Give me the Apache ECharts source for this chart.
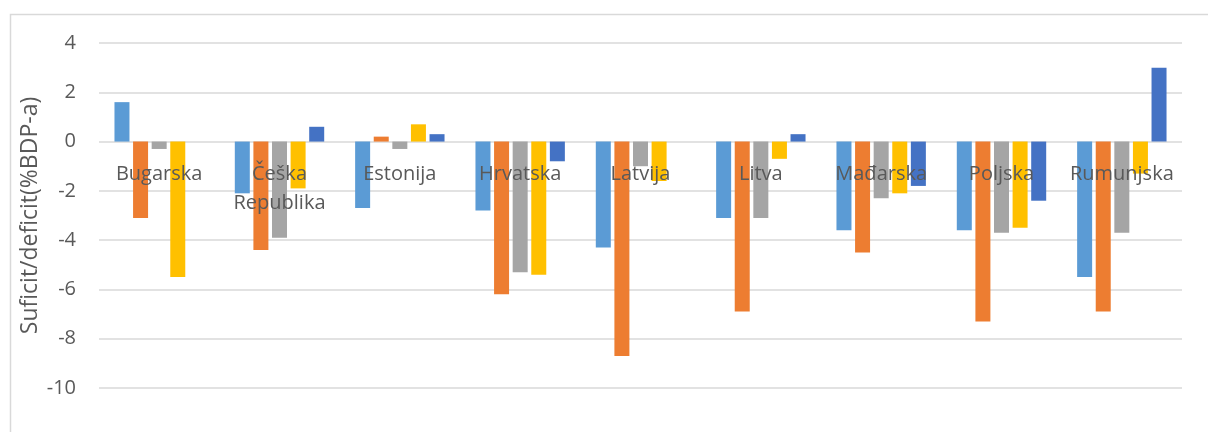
<!DOCTYPE html>
<html><head><meta charset="utf-8">
<script src="https://cdn.jsdelivr.net/npm/echarts@6/dist/echarts.min.js"></script>
<style>html,body{margin:0;padding:0;background:#fff}#c{width:1208px;height:432px}</style>
</head><body><div id="c"></div>
<script>
const categories = ['Bugarska', 'Češka\nRepublika', 'Estonija', 'Hrvatska', 'Latvija', 'Litva', 'Mađarska', 'Poljska', 'Rumunjska'];
const series1 = [1.6, -2.1, -2.7, -2.8, -4.3, -3.1, -3.6, -3.6, -5.5];
const series2 = [-3.1, -4.4, 0.2, -6.2, -8.7, -6.9, -4.5, -7.3, -6.9];
const series3 = [-0.3, -3.9, -0.3, -5.3, -1.0, -3.1, -2.3, -3.7, -3.7];
const series4 = [-5.5, -1.9, 0.7, -5.4, -1.6, -0.7, -2.1, -3.5, -1.3];
const series5 = [0, 0.6, 0.3, -0.8, 0, 0.3, -1.8, -2.4, 3.0];
const seriesNames = ['Serija 1', 'Serija 2', 'Serija 3', 'Serija 4', 'Serija 5'];
const colors = ['#5B9BD5', '#ED7D31', '#A5A5A5', '#FFC000', '#4472C4'];
const yTitle = 'Suficit/deficit(%BDP-a)';

const font = 'Open Sans';
const chart = echarts.init(document.getElementById('c'), null, {renderer: 'canvas'});
const allData = [series1, series2, series3, series4, series5];
const yMin = -10, yMax = 4;
chart.setOption({
  animation: false,
  backgroundColor: '#ffffff',
  graphic: [{
    type: 'rect', left: 8, top: 12, z: -1,
    shape: {width: 1220, height: 440},
    style: {fill: 'none', stroke: '#D9D9D9', lineWidth: 1.5}
  }],
  grid: {left: 99, right: 26, top: 43, bottom: 44, containLabel: false, outerBoundsMode: 'none'},
  xAxis: {
    type: 'category',
    data: categories,
    axisLine: {show: false, onZero: false},
    axisTick: {show: false},
    axisLabel: {
      color: '#595959', fontFamily: font, fontSize: 20, lineHeight: 29,
      margin: 18, interval: 0
    },
    z: 10
  },
  yAxis: {
    type: 'value',
    min: yMin, max: yMax, interval: 2,
    name: yTitle,
    nameLocation: 'middle',
    nameGap: 57,
    nameMoveOverlap: false,
    nameTextStyle: {color: '#595959', fontFamily: font, fontSize: 23},
    axisLine: {show: false},
    axisTick: {show: false},
    axisLabel: {color: '#595959', fontFamily: font, fontSize: 20, margin: 23},
    splitLine: {lineStyle: {color: '#D9D9D9', width: 1.5}}
  },
  series: allData.map((d, i) => ({
    name: seriesNames[i],
    type: 'bar',
    data: d,
    barWidth: 15,
    barGap: '24%',
    itemStyle: {color: colors[i]}
  }))
});
// place category labels just below the zero line, as in the original
const zeroPx = chart.convertToPixel({yAxisIndex: 0}, 0);
const bottomPx = chart.convertToPixel({yAxisIndex: 0}, yMin);
chart.setOption({xAxis: {axisLabel: {margin: 18 - (bottomPx - zeroPx)}}});
</script></body></html>
